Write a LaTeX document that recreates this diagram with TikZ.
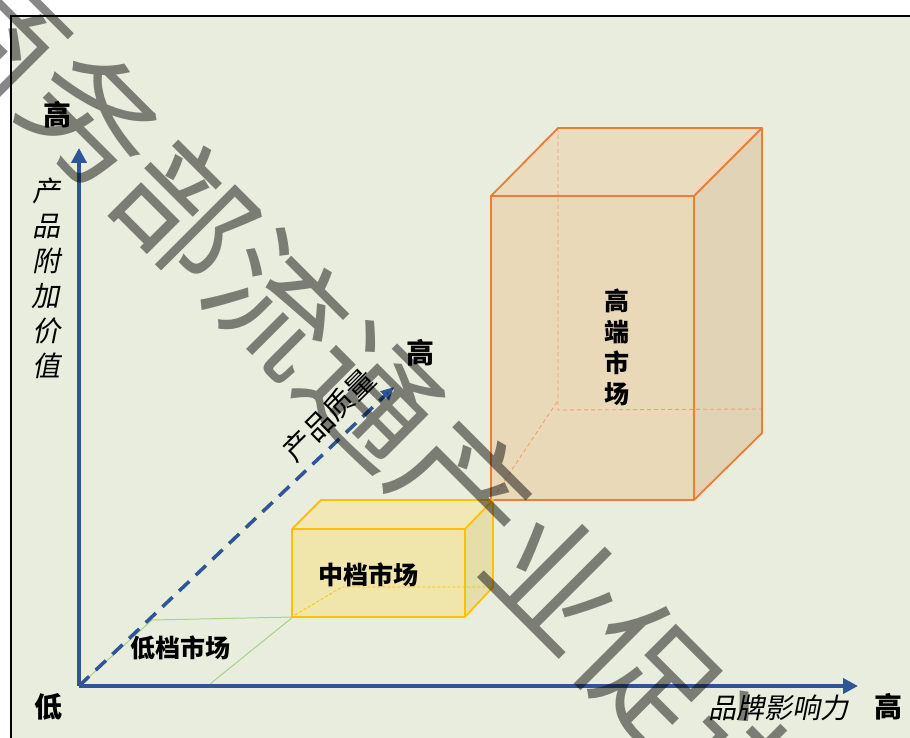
\documentclass[tikz,border=0pt]{standalone}
\usepackage{fontspec}
\setmainfont{Noto Sans CJK SC}[AutoFakeSlant=0.2]
\usetikzlibrary{arrows.meta}
\definecolor{bg}{RGB}{233,237,221}
\definecolor{axisblue}{RGB}{47,85,151}
\definecolor{darkblue}{RGB}{32,56,110}
\definecolor{lowgreen}{RGB}{169,209,142}
\definecolor{midfront}{RGB}{240,229,171}
\definecolor{midtop}{RGB}{241,232,182}
\definecolor{midside}{RGB}{229,221,170}
\definecolor{midline}{RGB}{255,192,0}
\definecolor{hifront}{RGB}{233,217,185}
\definecolor{hitop}{RGB}{234,220,191}
\definecolor{hiside}{RGB}{224,211,182}
\definecolor{hiline}{RGB}{237,125,49}
\definecolor{hidash}{RGB}{242,160,110}
\tikzset{
  axisline/.style={draw=axisblue, line width=4pt, -{Triangle[length=15pt,width=15pt]}},
  boldlabel/.style={font=\fontsize{28}{28}\selectfont\bfseries, inner sep=0pt},
  itlabel/.style={font=\fontsize{28}{35}\selectfont\itshape, inner sep=0pt, align=center},
  boxlabel/.style={font=\fontsize{25}{31}\selectfont\bfseries, inner sep=0pt, align=center},
  midedge/.style={draw=midline, line width=1.8pt, line join=round},
  hiedge/.style={draw=hiline, line width=1.8pt, line join=round},
  hidmid/.style={draw=midline, line width=0.8pt, dash pattern=on 3pt off 2pt},
  hidhi/.style={draw=hidash, line width=0.9pt, dash pattern=on 4pt off 3pt},
  lowline/.style={draw=lowgreen, line width=1pt},
  watermark/.style={text=black, text opacity=0.47, font=\fontsize{131}{131}\selectfont, inner sep=0pt}
}
\begin{document}
\begin{tikzpicture}[x=1pt,y=-1pt]
\useasboundingbox (0,0) rectangle (910,738);
\fill[white] (0,0) rectangle (910,738);
\begin{scope}
\clip (0,0) rectangle (910,738);
% panel
\draw[fill=bg, line width=2pt] (11,16) rectangle (930,760);

% coordinates
\coordinate (O) at (79,686);
\coordinate (Ytip) at (79,148);
\coordinate (Xtip) at (858,686);
\coordinate (Dtip) at (394,387);

% low market parallelogram
\coordinate (L1) at (152,620);
\coordinate (L2) at (293,617);
\coordinate (L3) at (210,684);
\draw[lowline] (O) -- (L1) -- (L2) -- (L3);

% high box
\coordinate (HA) at (491,196);
\coordinate (HB) at (694,196);
\coordinate (HC) at (694,500);
\coordinate (HD) at (491,500);
\coordinate (HE) at (558,128);
\coordinate (HF) at (762,128);
\coordinate (HG) at (762,433);
\fill[hitop] (HA) -- (HE) -- (HF) -- (HB) -- cycle;
\fill[hiside] (HB) -- (HF) -- (HG) -- (HC) -- cycle;
\fill[hifront] (HA) -- (HB) -- (HC) -- (HD) -- cycle;
\coordinate (HH1) at (558,410);
\coordinate (HH2) at (762,409);
\coordinate (HH3) at (557,402);
\coordinate (HH4) at (497,492);
\draw[hidhi] (HE) -- (HH1) -- (HH2);
\draw[hidhi] (HH3) -- (HH4);
\draw[hiedge] (HA) -- (HB) -- (HC) -- (HD) -- cycle;
\draw[hiedge] (HA) -- (HE) -- (HF) -- (HB);
\draw[hiedge] (HF) -- (HG) -- (HC);

% middle box
\coordinate (MA) at (292,529);
\coordinate (MB) at (465,529);
\coordinate (MC) at (465,617);
\coordinate (MD) at (292,617);
\coordinate (ME) at (321,500);
\coordinate (MF) at (493,500);
\coordinate (MG) at (493,587);
\coordinate (MH1) at (295,615);
\coordinate (MH2) at (342,587);
\fill[midtop] (MA) -- (ME) -- (MF) -- (MB) -- cycle;
\fill[midside] (MB) -- (MF) -- (MG) -- (MC) -- cycle;
\fill[midfront] (MA) -- (MB) -- (MC) -- (MD) -- cycle;
\draw[hidmid] (MH1) -- (MH2) -- (MG);
\draw[midedge] (MA) -- (MB) -- (MC) -- (MD) -- cycle;
\draw[midedge] (MA) -- (ME) -- (MF) -- (MB);
\draw[midedge] (MF) -- (MG) -- (MC);

% axes
\draw[axisline] (O) -- (Ytip);
\draw[axisline] (O) -- (Xtip);
\draw[draw=axisblue, line width=3.5pt, dash pattern=on 14pt off 9pt,
      -{Triangle[length=13pt,width=12pt,fill=darkblue]}] (O) -- (Dtip);

% labels
\node[boldlabel] (yhigh) at (57,115) {高};
\node[itlabel] (yname) at (46,278) {产\\品\\附\\加\\价\\值};
\node[boldlabel] (low) at (48,707) {低};
\node[itlabel, font=\fontsize{28}{28}\selectfont\itshape] (xname) at (778,708) {品牌影响力};
\node[boldlabel] (xhigh) at (888,707) {高};
\node[boldlabel] (dhigh) at (420,353) {高};
\node[inner sep=0pt, rotate=45, font=\fontsize{29}{29}\selectfont] (dname) at (329,415) {产品质量};
\node[boxlabel] (lowm) at (180,648) {低档市场};
\node[boxlabel] (midm) at (368,575) {中档市场};
\node[boxlabel] (him) at (617,347) {高\\端\\市\\场};

% watermark
\node[watermark, rotate=-45] (wm) at (371,396) {商务部流通产业促进};
\end{scope}
\end{tikzpicture}
\end{document}
